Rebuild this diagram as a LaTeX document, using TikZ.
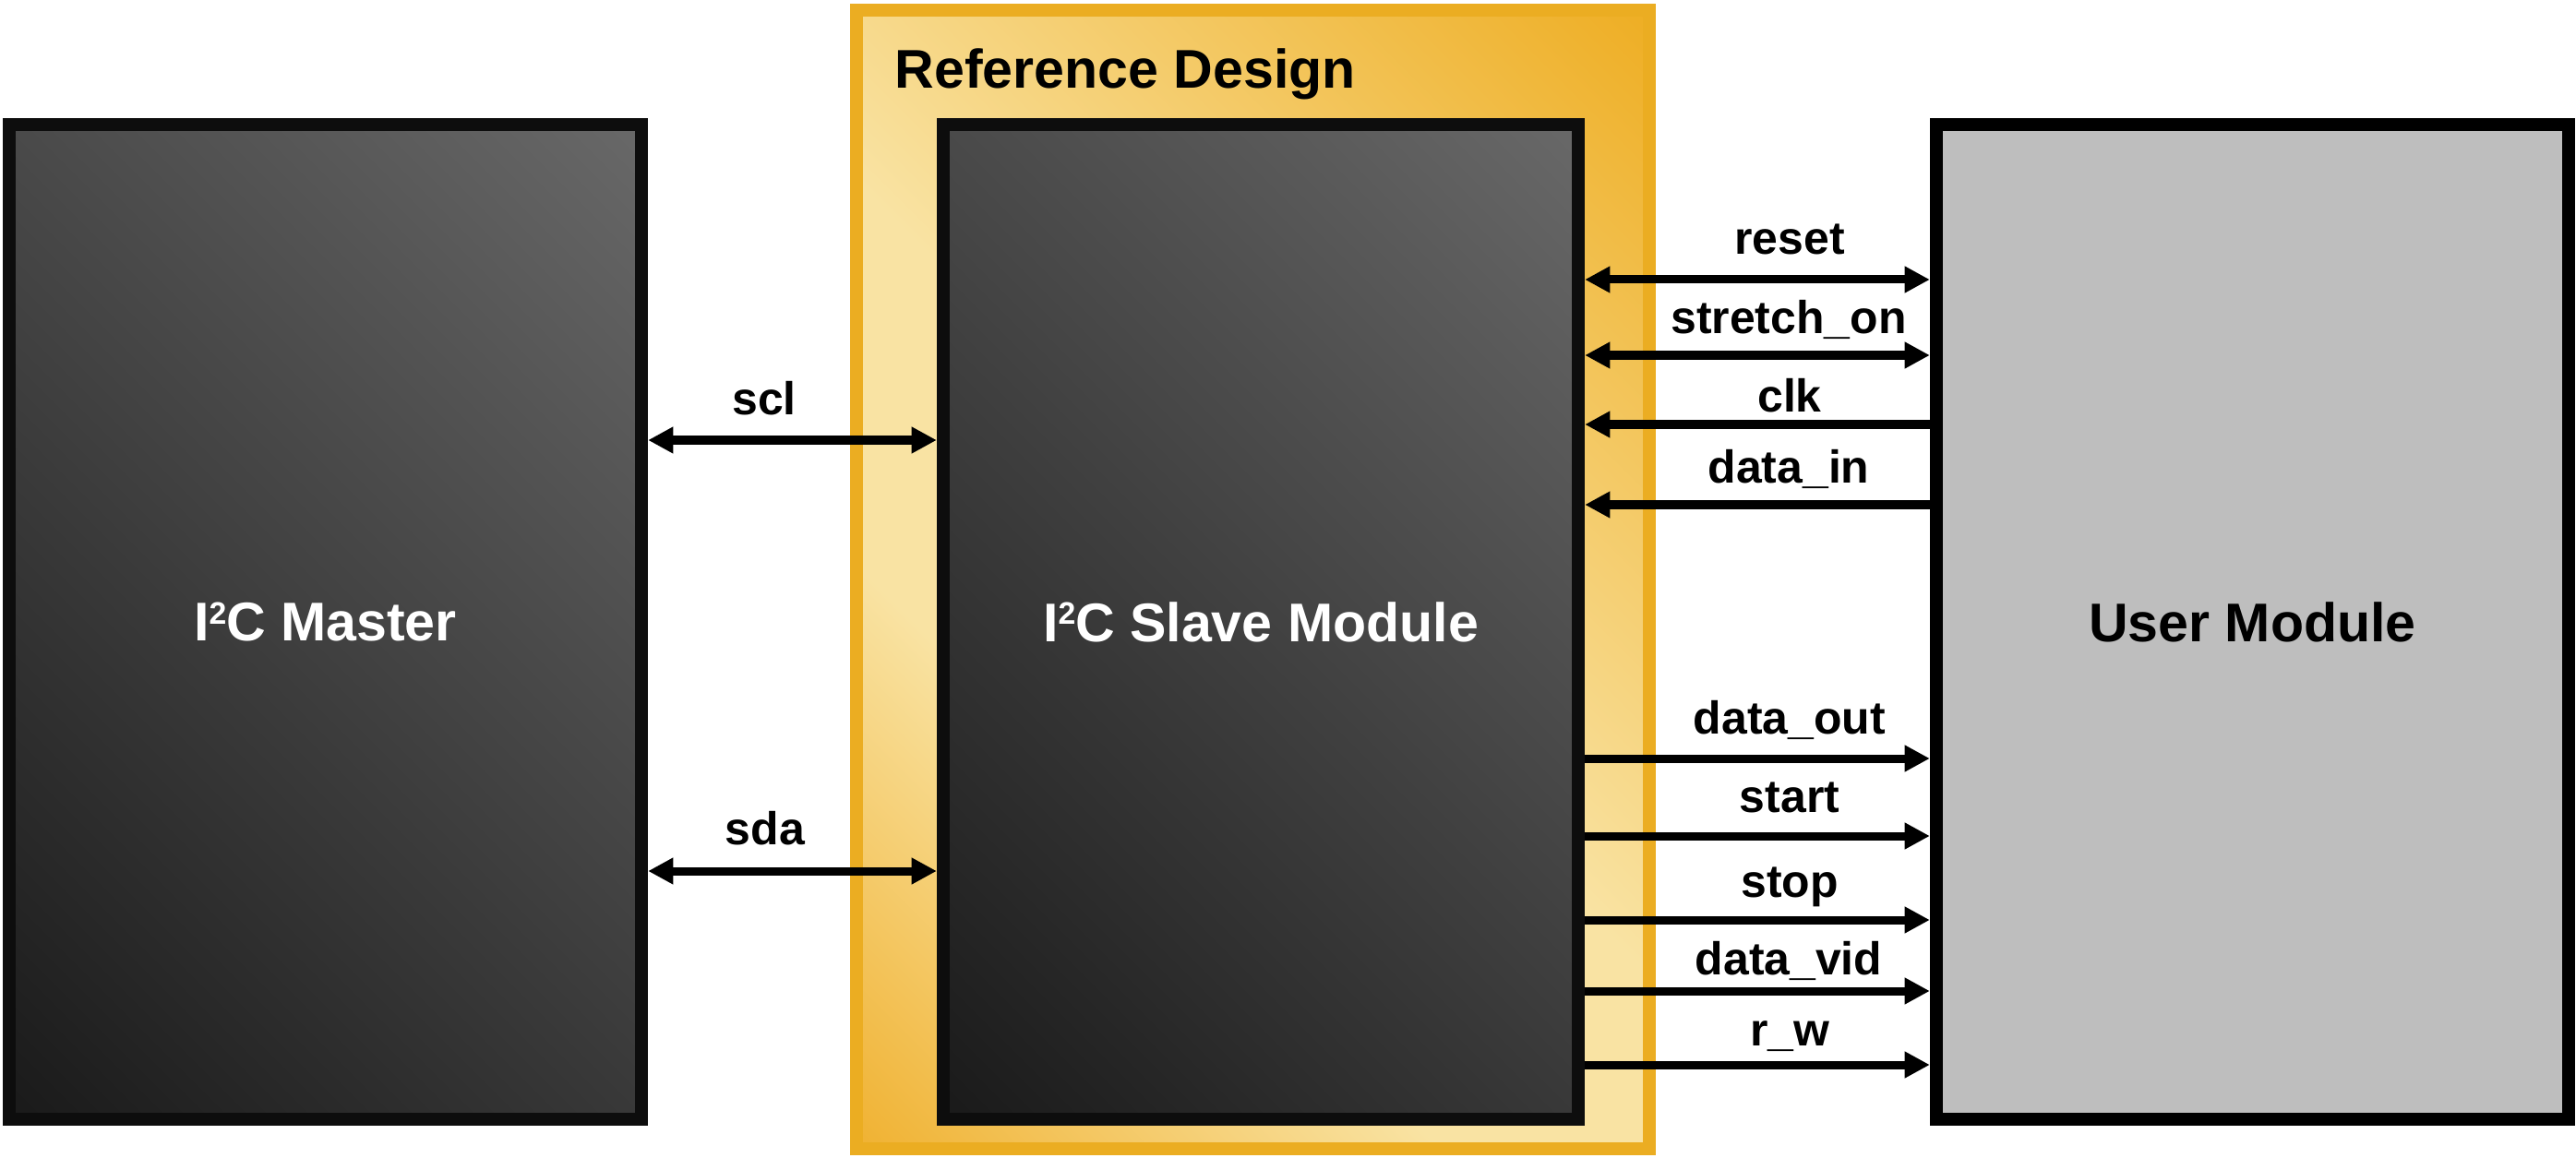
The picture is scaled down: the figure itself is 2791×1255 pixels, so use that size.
\documentclass[tikz,border=0pt]{standalone}
\usepackage{fontspec}
\setmainfont{Liberation Sans}
\usetikzlibrary{arrows.meta}
\definecolor{orbord}{HTML}{EBAD22}
\definecolor{orA}{HTML}{F0B232}
\definecolor{orPale}{HTML}{F9E3A3}
\definecolor{orB}{HTML}{EEAE24}
\definecolor{dkA}{HTML}{1A1A1A}
\definecolor{dkB}{HTML}{686868}
\definecolor{dkbord}{HTML}{0D0D0D}
\definecolor{usrfill}{HTML}{BEBEBE}
\pgfdeclarehorizontalshading{orshade}{100bp}{color(0bp)=(orA); color(14.64bp)=(orA); color(36bp)=(orPale); color(50bp)=(orPale); color(85.36bp)=(orB); color(100bp)=(orB)}
\pgfdeclarehorizontalshading{dkshade}{100bp}{color(0bp)=(dkA); color(14.64bp)=(dkA); color(85.36bp)=(dkB); color(100bp)=(dkB)}
\newcommand{\sqtwo}{\raisebox{0.31em}{\fontsize{9.6}{10}\selectfont 2}}
\tikzset{
  bigtext/.style={font=\fontsize{16.8}{20}\selectfont\bfseries},
  lbl/.style={font=\fontsize{14.2}{17}\selectfont\bfseries, anchor=base, inner sep=0pt},
  framebox/.style={draw=orbord, line width=0.14cm, shade, shading=orshade, shading angle=45,
    minimum width=8.59cm, minimum height=12.34cm, inner sep=0pt},
  darkbox/.style={draw=dkbord, line width=0.14cm, shade, shading=dkshade, shading angle=45,
    minimum height=10.78cm, inner sep=0pt, text=white, bigtext},
  userbox/.style={draw=black, line width=0.14cm, fill=usrfill,
    minimum width=6.85cm, minimum height=10.78cm, inner sep=0pt, text=black, bigtext},
  sig/.style={line width=0.09cm, arrows={-}, >={Triangle[length=7.7pt, width=7.7pt]}}
}
\begin{document}
\begin{tikzpicture}[x=0.01cm, y=-0.01cm]
\useasboundingbox (0,0) rectangle (2791,1255);
% Reference design frame
\node[framebox] (rd) at (1357.5,628) {};
\node[bigtext, anchor=base west, inner sep=0pt] (rdtitle) at (969,96) {Reference Design};
% Blocks
\node[darkbox, minimum width=6.85cm] (master) at (352.5,674) {I\sqtwo C Master};
\node[darkbox, minimum width=6.88cm] (slave) at (1366,674) {I\sqtwo C Slave Module};
\node[userbox] (user) at (2440.5,674) {User Module};
% I2C bus
\draw[sig, <->] (master.east |- 0,477) -- (slave.west |- 0,477);
\draw[sig, <->] (master.east |- 0,944) -- (slave.west |- 0,944);
\node[lbl] (lscl) at (828,449) {scl};
\node[lbl] (lsda) at (829,915) {sda};
% User interface
\draw[sig, <->] (slave.east |- 0,303) -- (user.west |- 0,303);
\draw[sig, <->] (slave.east |- 0,385) -- (user.west |- 0,385);
\draw[sig, <-] (slave.east |- 0,460) -- (user.west |- 0,460);
\draw[sig, <-] (slave.east |- 0,547) -- (user.west |- 0,547);
\draw[sig, ->] (slave.east |- 0,822) -- (user.west |- 0,822);
\draw[sig, ->] (slave.east |- 0,906) -- (user.west |- 0,906);
\draw[sig, ->] (slave.east |- 0,997) -- (user.west |- 0,997);
\draw[sig, ->] (slave.east |- 0,1074) -- (user.west |- 0,1074);
\draw[sig, ->] (slave.east |- 0,1154) -- (user.west |- 0,1154);
\node[lbl] (lreset) at (1939,276) {reset};
\node[lbl] (lstretch) at (1938,362) {stretch\_on};
\node[lbl] (lclk) at (1939,446) {clk};
\node[lbl] (ldatain) at (1938,524) {data\_in};
\node[lbl] (ldataout) at (1939,795) {data\_out};
\node[lbl] (lstart) at (1939,880) {start};
\node[lbl] (lstop) at (1939,972) {stop};
\node[lbl] (ldatavid) at (1938,1056) {data\_vid};
\node[lbl] (lrw) at (1939,1133) {r\_w};
\end{tikzpicture}
\end{document}
